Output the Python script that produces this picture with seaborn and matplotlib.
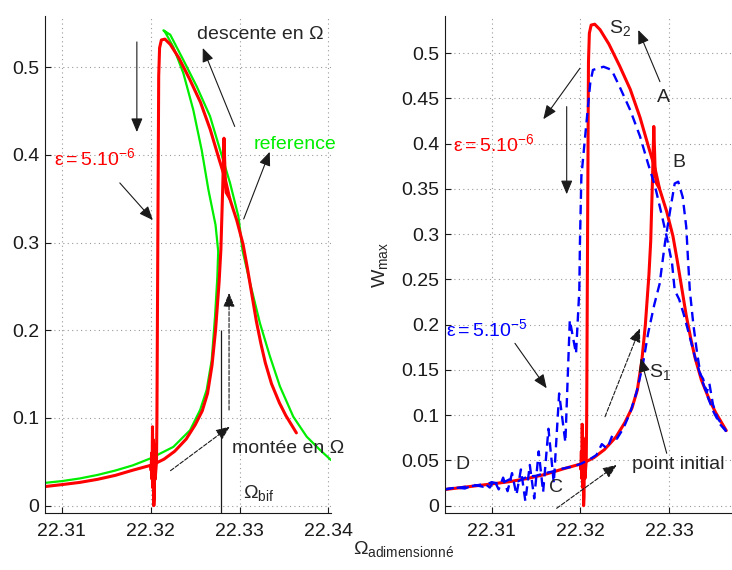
import numpy as np
import pandas as pd
import matplotlib
matplotlib.use('Agg')
import matplotlib.pyplot as plt
import seaborn as sns

# ---- data ----
# reference curve (green), left panel
ref_x = [22.3081, 22.3100, 22.3120, 22.3140, 22.3160, 22.3180, 22.3200, 22.32255, 22.32443,
         22.32556, 22.3263, 22.32687, 22.32724, 22.3275, 22.3276, 22.3273, 22.3265, 22.32575,
         22.3248, 22.32368, 22.32255, 22.32162, 22.32143, 22.3222, 22.32368, 22.32518, 22.32668,
         22.3278, 22.32893, 22.32987, 22.33034, 22.33118, 22.3323, 22.33343, 22.33455, 22.33605,
         22.33756, 22.33906, 22.34030]
ref_y = [0.026, 0.028, 0.031, 0.035, 0.040, 0.046, 0.054, 0.067, 0.086,
         0.109, 0.132, 0.166, 0.2155, 0.26, 0.29, 0.32, 0.36, 0.405,
         0.451, 0.493, 0.523, 0.540, 0.542, 0.537, 0.508, 0.478, 0.444,
         0.406, 0.368, 0.330, 0.291, 0.254, 0.208, 0.170, 0.136, 0.1015,
         0.0787, 0.0635, 0.052]

# eps = 5e-6 (red): increasing sweep, lower branch -> jump -> outer branch
red_up_x = [22.3047, 22.3070, 22.3100, 22.3120, 22.3140, 22.3160, 22.3180, 22.3200, 22.3203,
            22.3215, 22.3227, 22.3240, 22.3250, 22.3258, 22.3264, 22.3269, 22.3273, 22.3277,
            22.3279, 22.3281, 22.32825, 22.3284, 22.3285, 22.3289, 22.3297, 22.3304, 22.3309,
            22.3314, 22.3319, 22.3324, 22.3329, 22.3336, 22.3345, 22.3352, 22.3358, 22.3364]
red_up_y = [0.0178, 0.0205, 0.0240, 0.0265, 0.0300, 0.0345, 0.0405, 0.0460, 0.0470,
            0.053, 0.062, 0.076, 0.092, 0.108, 0.128, 0.160, 0.200, 0.255,
            0.292, 0.360, 0.419, 0.370, 0.357, 0.350, 0.325, 0.298, 0.270,
            0.240, 0.210, 0.185, 0.163, 0.139, 0.117, 0.103, 0.093, 0.083]
# decreasing sweep: upper branch -> drop -> transient
red_down_x = [22.3289, 22.3284, 22.3277, 22.3267, 22.3256, 22.3244, 22.3232, 22.3222, 22.3216,
              22.3212, 22.3210, 22.3209, 22.3208, 22.3207, 22.32065, 22.3205, 22.32045, 22.3204,
              22.32035, 22.3203, 22.32025, 22.3202, 22.32015, 22.3201, 22.32005, 22.3200]
red_down_y = [0.350, 0.372, 0.395, 0.429, 0.460, 0.486, 0.510, 0.526, 0.532,
              0.531, 0.522, 0.490, 0.300, 0.100, 0.050, 0.030, 0.070, 0.010,
              0.000, 0.075, 0.020, 0.090, 0.030, 0.060, 0.040, 0.046]

# eps = 5e-5 (blue dashed), right panel
blue_up_x = [22.3047, 22.3060, 22.3070, 22.3080, 22.3090, 22.3100, 22.3110, 22.3120, 22.3130,
             22.3140, 22.3150, 22.3160, 22.3170, 22.3180, 22.3190, 22.3200, 22.3210, 22.3218,
             22.3224, 22.3230, 22.3236, 22.3241, 22.3248, 22.3256, 22.3263, 22.3270, 22.3276,
             22.3283, 22.3289, 22.3295, 22.3301, 22.3306, 22.3310, 22.3315, 22.3319, 22.3321,
             22.3323, 22.3327, 22.3331, 22.3335, 22.3338, 22.3342, 22.3345, 22.3349, 22.3354,
             22.3359, 22.3364]
blue_up_y = [0.018, 0.020, 0.019, 0.023, 0.021, 0.026, 0.024, 0.029, 0.027,
             0.032, 0.033, 0.036, 0.038, 0.041, 0.043, 0.046, 0.051, 0.056,
             0.068, 0.063, 0.078, 0.074, 0.085, 0.103, 0.125, 0.155, 0.190,
             0.222, 0.245, 0.290, 0.327, 0.356, 0.358, 0.341, 0.308, 0.2715,
             0.238, 0.200, 0.170, 0.145, 0.140, 0.125, 0.135, 0.112, 0.097,
             0.090, 0.082]
blue_down_x = [22.3364, 22.3357, 22.3350, 22.3344, 22.3338, 22.3330, 22.3322, 22.3316, 22.3311,
               22.3306, 22.3303, 22.3297, 22.3291, 22.3284, 22.3276, 22.3267, 22.3256, 22.3244,
               22.3235, 22.3226, 22.3214, 22.3211, 22.3207, 22.3201, 22.31994, 22.31987, 22.3195,
               22.3188, 22.3183, 22.3176, 22.3170, 22.3164, 22.3158, 22.3153, 22.3148, 22.3143,
               22.3138, 22.3133, 22.3128, 22.3123, 22.3118, 22.3113, 22.3108, 22.3103, 22.3098,
               22.3093, 22.3080, 22.3047]
blue_down_y = [0.082, 0.090, 0.103, 0.118, 0.135, 0.160, 0.190, 0.212, 0.228,
               0.238, 0.268, 0.297, 0.323, 0.3525, 0.378, 0.408, 0.437, 0.463,
               0.4815, 0.485, 0.4815, 0.467, 0.426, 0.3635, 0.290, 0.238, 0.168,
               0.205, 0.070, 0.124, 0.025, 0.085, 0.015, 0.060, 0.008, 0.045,
               0.005, 0.040, 0.012, 0.036, 0.016, 0.031, 0.018, 0.028, 0.020,
               0.024, 0.022, 0.018]

omega_bif = 22.3279
bif_top = 0.2

left_yticks = [0, 0.1, 0.2, 0.3, 0.4, 0.5]
left_xticks = [22.31, 22.32, 22.33, 22.34]
right_yticks = [0, 0.05, 0.1, 0.15, 0.2, 0.25, 0.3, 0.35, 0.4, 0.45, 0.5]
right_xticks = [22.31, 22.32, 22.33]

RED = '#ff0000'
GREEN = '#00ee00'
BLUE = '#0000ff'

sns.set_theme(style='white')
plt.rcParams['font.family'] = ['Liberation Sans', 'DejaVu Sans']
plt.rcParams['mathtext.fontset'] = 'custom'
plt.rcParams['mathtext.rm'] = 'Liberation Sans'
plt.rcParams['mathtext.it'] = 'Liberation Sans:italic'
FS = 14

fig = plt.figure(figsize=(7.32, 5.70), dpi=100)
axL = fig.add_axes([0.0615, 0.0995, 0.3907, 0.8725])
axR = fig.add_axes([0.6079, 0.0995, 0.3907, 0.8725])


def curve(ax, xs, ys, color, lw, ls='-'):
    df = pd.DataFrame({'omega': xs, 'w': ys})
    sns.lineplot(data=df, x='omega', y='w', sort=False, estimator=None, ax=ax,
                 color=color, lw=lw, linestyle=ls)


def style_axes(ax, xt, yt, xlim, ylim):
    ax.set_xlim(*xlim)
    ax.set_ylim(*ylim)
    ax.set_xticks(xt)
    ax.set_xticklabels([f'{v:.2f}' for v in xt])
    ax.set_yticks(yt)
    ax.set_yticklabels(['0' if v == 0 else f'{v:g}' for v in yt])
    ax.grid(True, color='#9a9a9a', linestyle=(0, (1, 3)), lw=0.8)
    for s in ['top', 'right']:
        ax.spines[s].set_visible(False)
    for s in ['left', 'bottom']:
        ax.spines[s].set_color('k')
        ax.spines[s].set_linewidth(0.8)
    ax.tick_params(direction='in', length=4, width=0.8, labelsize=FS, colors='k',
                   bottom=True, left=True)
    ax.tick_params(axis='x', pad=7)
    ax.tick_params(axis='y', pad=4)
    ax.set_xlabel('')
    ax.set_ylabel('')


def arrow(ax, tail, head, ls='-'):
    ax.annotate('', xy=head, xytext=tail,
                arrowprops=dict(arrowstyle='-|>,head_length=0.6,head_width=0.25',
                                color='k', lw=0.8, linestyle=ls, mutation_scale=14,
                                shrinkA=0, shrinkB=0))


# ---- left panel ----
curve(axL, ref_x, ref_y, GREEN, 1.6)
curve(axL, red_up_x, red_up_y, RED, 2.2)
curve(axL, red_down_x, red_down_y, RED, 2.2)
axL.vlines(omega_bif, -0.0087, bif_top, color='k', lw=0.9)
style_axes(axL, left_xticks, left_yticks, (22.3081, 22.3403), (-0.0087, 0.5584))

axL.text(22.33238, 0.5377, 'descente en Ω', fontsize=FS, ha='center', va='center')
arrow(axL, (22.32946, 0.4324), (22.32586, 0.5219))
arrow(axL, (22.31844, 0.5288), (22.31844, 0.4260))
axL.text(22.31371, 0.3966, r'$\mathregular{ε{=}5.10^{-6}}$', fontsize=FS, color=RED,
         ha='center', va='center')
arrow(axL, (22.31652, 0.3680), (22.32024, 0.3256))
axL.text(22.33621, 0.4113, 'reference', fontsize=FS, color=GREEN, ha='center', va='center')
arrow(axL, (22.33047, 0.3269), (22.3334, 0.4035))
arrow(axL, (22.32882, 0.1091), (22.32882, 0.2425), ls='--')
arrow(axL, (22.32223, 0.0399), (22.3289, 0.0901), ls='--')
axL.text(22.33542, 0.0652, 'montée en Ω', fontsize=FS, ha='center', va='center')
axL.text(22.3321, 0.0140, r'$\mathregular{\Omega_{bif}}$', fontsize=FS, ha='center', va='center')

# ---- right panel ----
curve(axR, red_up_x, red_up_y, RED, 2.2)
curve(axR, red_down_x, red_down_y, RED, 2.2)
curve(axR, blue_up_x, blue_up_y, BLUE, 1.7, ls=(0, (4, 2.5)))
curve(axR, blue_down_x, blue_down_y, BLUE, 1.7, ls=(0, (4, 2.5)))
style_axes(axR, right_xticks, right_yticks, (22.30476, 22.33693), (-0.0084, 0.5411))

axR.text(22.32444, 0.5278, r'$\mathregular{S_2}$', fontsize=FS, ha='center', va='center')
arrow(axR, (22.32894, 0.4685), (22.3265, 0.5256))
axR.text(22.32939, 0.4505, 'A', fontsize=FS, ha='center', va='center')
axR.text(22.33108, 0.3787, 'B', fontsize=FS, ha='center', va='center')
arrow(axR, (22.31994, 0.4833), (22.31582, 0.4270))
arrow(axR, (22.31845, 0.4409), (22.31845, 0.3441))
axR.text(22.31027, 0.3997, r'$\mathregular{ε{=}5.10^{-6}}$', fontsize=FS, color=RED,
         ha='center', va='center')
axR.text(22.30948, 0.1952, r'$\mathregular{ε{=}5.10^{-5}}$', fontsize=FS, color=BLUE,
         ha='center', va='center')
arrow(axR, (22.31263, 0.1794), (22.3162, 0.1297))
axR.text(22.30667, 0.0450, 'D', fontsize=FS, ha='center', va='center')
axR.text(22.31724, 0.0196, 'C', fontsize=FS, ha='center', va='center')
arrow(axR, (22.31732, -0.0029), (22.32407, 0.0450), ls='--')
arrow(axR, (22.32276, 0.0983), (22.32669, 0.1960), ls='--')
axR.text(22.32894, 0.1477, r'$\mathregular{S_1}$', fontsize=FS, ha='center', va='center')
arrow(axR, (22.3297, 0.0579), (22.32677, 0.1629))
axR.text(22.33102, 0.0450, 'point initial', fontsize=FS, ha='center', va='center')

fig.text(0.551, 0.036, r'$\mathregular{\Omega_{adimensionné}}$', fontsize=FS,
         ha='center', va='center')
fig.text(0.519, 0.535, r'$\mathregular{W_{max}}$', fontsize=FS, rotation=90,
         ha='center', va='center')

fig.savefig('out.png', dpi=100)
